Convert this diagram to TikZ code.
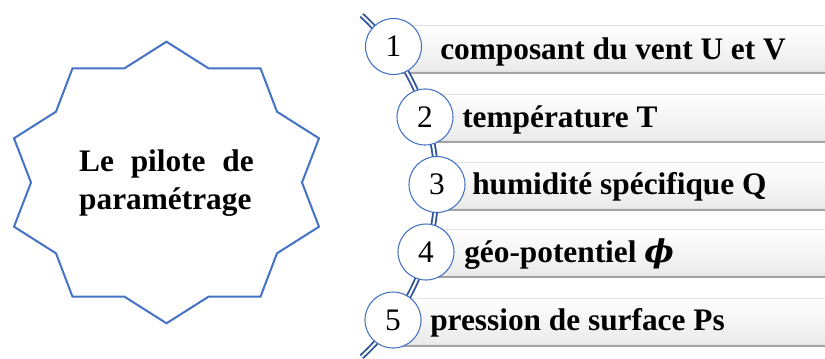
\documentclass[tikz,border=0pt]{standalone}
\usepackage{fontspec}
\setmainfont{Liberation Serif}
\newfontfamily\greekfont{DejaVu Serif}
\usepackage{tikz}
\usetikzlibrary{positioning, shadows}

\definecolor{starblue}{RGB}{68,114,196}
\definecolor{spineblue}{RGB}{47,85,151}

\tikzset{
  bigfont/.style={font=\fontsize{23.5pt}{28.5pt}\selectfont},
  starline/.style={draw=starblue, line width=1.5pt, line join=miter, fill=white},
  startext/.style={font=\fontsize{23.5pt}{28.5pt}\selectfont\bfseries, text width=131pt, align=left, inner sep=0pt},
  spine/.style={draw=spineblue, line width=1.4pt, double=white, double distance=1.5pt},
  barbox/.style={rectangle, anchor=west, minimum height=34.5pt, inner sep=0pt,
    top color=white, bottom color=gray!16, draw=gray!22, line width=0.4pt,
    drop shadow={shadow xshift=0pt, shadow yshift=-2.4pt, fill=gray!80, opacity=0.9}},
  numcircle/.style={circle, draw=starblue, line width=0.8pt, fill=white, minimum size=42pt, inner sep=0pt, bigfont},
  itemtext/.style={anchor=base west, inner sep=0pt, font=\fontsize{23.5pt}{28.5pt}\selectfont\bfseries}
}

\begin{document}
\begin{tikzpicture}[x=0.75pt, y=-0.75pt]
    \useasboundingbox (0,0) rectangle (825,358);

    \draw[starline] (166.5,41.7) -- (208.5,68.3) -- (260.5,68.3) -- (277,111.7) -- (319,138.3) -- (302,182.5)
      -- (319,226.7) -- (277,253.3) -- (260.5,296.7) -- (208.5,296.7) -- (166.5,323.3) -- (124.5,296.7)
      -- (72.5,296.7) -- (56,253.3) -- (14,226.7) -- (31,182.5) -- (14,138.3) -- (56,111.7)
      -- (72.5,68.3) -- (124.5,68.3) -- cycle;
    \node[startext] (Pilote) at (166.5,183) {Le\hfill pilote\hfill de\\paramétrage};

    \node[barbox, minimum width=326pt] (Bar1) at (393.5,48) {};
    \node[barbox, minimum width=303pt] (Bar2) at (425,117) {};
    \node[barbox, minimum width=294pt] (Bar3) at (437,185) {};
    \node[barbox, minimum width=302pt] (Bar4) at (426,252) {};
    \node[barbox, minimum width=327pt] (Bar5) at (393,321) {};

    \draw[spine] plot[domain=47.4:-47.4, samples=80] ({204.6+232*cos(\x)}, {186-232*sin(\x)});

    \node[numcircle] (Num1) at (393.5,46.5) {1};
    \node[numcircle] (Num2) at (425,117) {2};
    \node[numcircle] (Num3) at (437,184.5) {3};
    \node[numcircle] (Num4) at (426,252) {4};
    \node[numcircle] (Num5) at (393,320) {5};

    \node[itemtext] (Vent) at (440,59) {composant du vent U et V};
    \node[itemtext] (Temp) at (462,127) {température T};
    \node[itemtext] (Humid) at (472,194) {humidité spécifique Q};
    \node[itemtext] (Geo) at (464,262) {géo-potentiel {\greekfont\itshape ϕ}};
    \node[itemtext] (Press) at (430,330) {pression de surface Ps};
\end{tikzpicture}
\end{document}
